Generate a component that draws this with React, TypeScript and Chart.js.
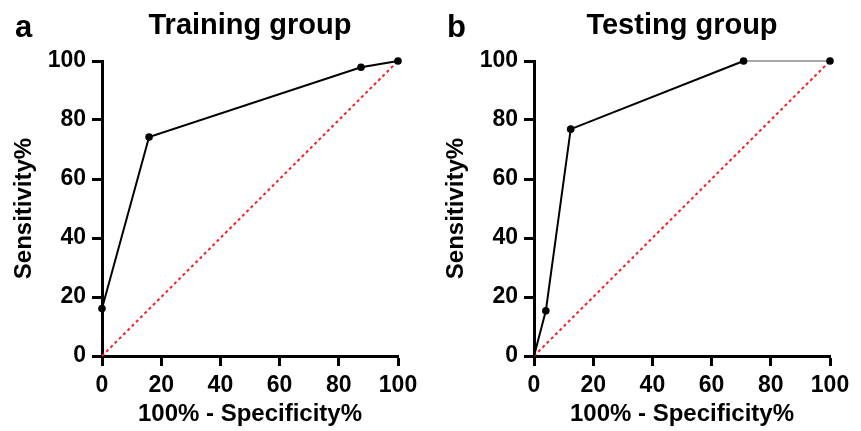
import React, { useEffect, useRef } from "react";
import { Chart, registerables } from "chart.js";

Chart.register(...registerables);

// ---- data ----
const tickValues = [0, 20, 40, 60, 80, 100];
const trainX = [0, 15.9, 87.5, 100];
const trainY = [16.1, 74.2, 97.9, 100];
const testX = [0, 4.0, 12.4, 70.8, 100];
const testY = [0, 15.3, 76.9, 100, 100];
const diagX = [0, 100];
const diagY = [0, 100];

const FONT = "'Liberation Sans', Arial, Helvetica, sans-serif";

type PanelProps = {
  letter: string;
  title: string;
  xs: number[];
  ys: number[];
  left: number;
  width: number;
  greyFrom?: number;
};

function Panel({ letter, title, xs, ys, left, width, greyFrom }: PanelProps) {
  const ref = useRef<HTMLCanvasElement | null>(null);
  useEffect(() => {
    if (!ref.current) return;
    const textPlugin = {
      id: "panelText",
      afterDraw(chart: any) {
        const ctx = chart.ctx;
        const a = chart.chartArea;
        ctx.save();
        ctx.fillStyle = "#000";
        ctx.textBaseline = "alphabetic";
        ctx.font = `bold 29px ${FONT}`;
        ctx.textAlign = "center";
        ctx.fillText(title, (a.left + a.right) / 2, 34);
        ctx.font = `bold 31px ${FONT}`;
        ctx.textAlign = "left";
        ctx.fillText(letter, 15, 37);
        ctx.restore();
      },
    };
    const rocData = xs.map((x, i) => ({ x, y: ys[i] }));
    const diag = diagX.map((x, i) => ({ x, y: diagY[i] }));
    const radii = xs.map((x, i) => (x === 0 && ys[i] === 0 ? 0 : 3.8));
    const axisCommon = (titleText: string, pad: any) => ({
      type: "linear",
      min: 0,
      max: 100,
      afterBuildTicks: (s: any) => {
        s.ticks = tickValues.map((v) => ({ value: v }));
      },
      border: { display: true, color: "#000", width: 3 },
      grid: {
        display: true,
        drawOnChartArea: false,
        drawTicks: true,
        tickLength: 10,
        tickWidth: 3,
        tickColor: "#000",
      },
      ticks: {
        color: "#000",
        padding: 6,
        font: { family: FONT, size: 23, weight: "bold" },
        maxRotation: 0,
        autoSkip: false,
      },
      title: {
        display: true,
        text: titleText,
        color: "#000",
        font: { family: FONT, size: 24, weight: "bold" },
        padding: pad,
      },
    });
    const chart = new Chart(ref.current, {
      type: "scatter",
      data: {
        datasets: [
          {
            data: diag,
            showLine: true,
            borderColor: "rgb(245,30,36)",
            borderWidth: 2,
            borderDash: [3, 3],
            pointRadius: 0,
            clip: false,
            order: 2,
          } as any,
          {
            data: rocData,
            showLine: true,
            borderColor: "#000",
            borderWidth: 2,
            pointRadius: radii,
            pointBackgroundColor: "#000",
            pointBorderColor: "#000",
            pointBorderWidth: 0,
            clip: false,
            order: 1,
            segment: {
              borderColor: (c: any) =>
                greyFrom !== undefined && c.p0.parsed.x >= greyFrom ? "#8a8a8a" : "#000",
              borderWidth: (c: any) =>
                greyFrom !== undefined && c.p0.parsed.x >= greyFrom ? 1.5 : 2,
            },
          } as any,
        ],
      },
      options: {
        responsive: false,
        animation: false,
        events: [],
        layout: { padding: { left: 0, right: width - 398, top: 61, bottom: 0 } },
        plugins: { legend: { display: false }, tooltip: { enabled: false }, title: { display: false } },
        scales: {
          x: {
            ...(axisCommon("100% - Specificity%", { top: 0, bottom: 2 }) as any),
            position: "bottom",
            afterFit: (s: any) => {
              s.height = 75;
            },
          },
          y: {
            ...(axisCommon("Sensitivity%", { top: 10, bottom: 0 }) as any),
            position: "left",
            afterFit: (s: any) => {
              s.width = 102;
            },
          },
        },
      } as any,
      plugins: [textPlugin],
    });
    return () => chart.destroy();
  }, []);
  return (
    <canvas
      ref={ref}
      width={width}
      height={431}
      style={{ position: "absolute", left, top: 0, width, height: 431 }}
    />
  );
}

export default function App() {
  return (
    <div style={{ position: "absolute", left: 0, top: 0, width: 861, height: 431, background: "#fff" }}>
      <Panel letter="a" title="Training group" xs={trainX} ys={trainY} left={0} width={430} />
      <Panel letter="b" title="Testing group" xs={testX} ys={testY} left={432} width={429} greyFrom={70} />
    </div>
  );
}
